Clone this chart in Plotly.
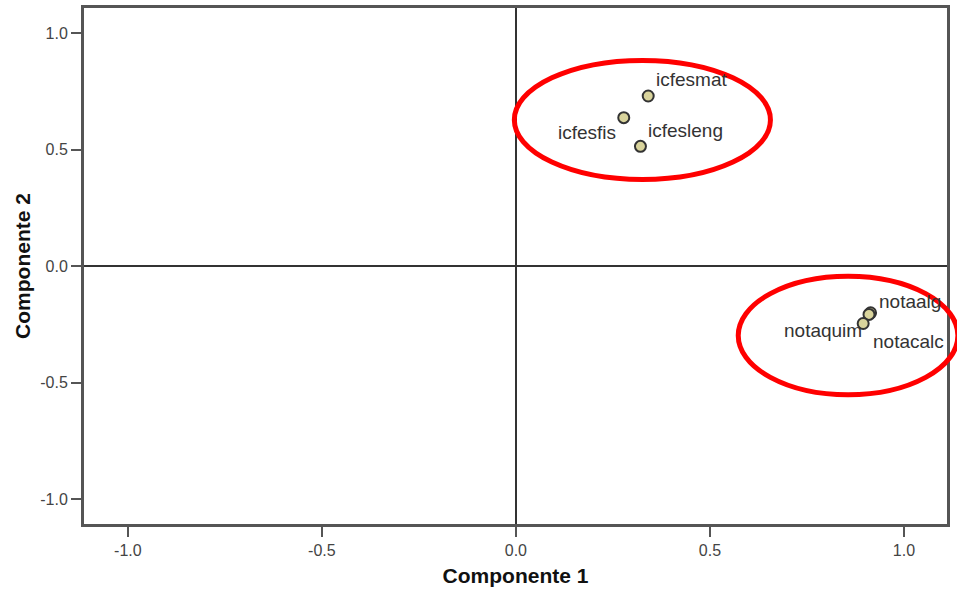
import plotly.graph_objects as go

# Data
variables = ["icfesmat", "icfesfis", "icfesleng", "notaalg", "notacalc", "notaquim"]
comp1 = [0.341, 0.278, 0.321, 0.914, 0.910, 0.895]
comp2 = [0.731, 0.638, 0.515, -0.200, -0.207, -0.246]
tick_vals = [-1.0, -0.5, 0.0, 0.5, 1.0]
tick_text = ["-1.0", "-0.5", "0.0", "0.5", "1.0"]

# label placement (anchor, xshift, yshift) per variable
label_pos = {
    "icfesmat": ("left", 6, 17),
    "icfesfis": ("right", -6, -15),
    "icfesleng": ("left", 6, 16),
    "notaalg": ("left", 6, 11),
    "notacalc": ("left", 2, -27),
    "notaquim": ("right", 1, -7),
}

xr = [-1.113, 1.111]
yr = [-1.107, 1.109]

# ellipses (data coords): x0, x1, y0, y1
ellipses = [(-0.004, 0.656, 0.373, 0.884), (0.573, 1.139, -0.552, -0.043)]

def px(v):
    return (v - xr[0]) / (xr[1] - xr[0])

def py(v):
    return (v - yr[0]) / (yr[1] - yr[0])

fig = go.Figure()
fig.add_trace(go.Scatter(
    x=comp1, y=comp2, mode="markers",
    marker=dict(size=11, color="#d9d49c", line=dict(color="#333333", width=2)),
    hoverinfo="text", text=variables, showlegend=False,
))

for name, xv, yv in zip(variables, comp1, comp2):
    anchor, xs, ys = label_pos[name]
    fig.add_annotation(x=xv, y=yv, text=name, showarrow=False,
                       xanchor=anchor, yanchor="middle", xshift=xs, yshift=ys,
                       font=dict(family="Liberation Sans, Arial", size=19, color="#333333"))

for x0, x1, y0, y1 in ellipses:
    fig.add_shape(type="circle", xref="paper", yref="paper",
                  x0=px(x0), x1=px(x1), y0=py(y0), y1=py(y1),
                  line=dict(color="#ff0000", width=5), layer="above")

axis_common = dict(
    tickvals=tick_vals, ticktext=tick_text,
    ticks="outside", ticklen=10, tickwidth=2, tickcolor="#555555",
    tickfont=dict(family="Liberation Sans, Arial", size=16, color="#444444"),
    showline=True, linecolor="#555555", linewidth=3, mirror=True,
    showgrid=False, zeroline=True, zerolinecolor="#333333", zerolinewidth=2,
)

fig.update_layout(
    width=957, height=590,
    margin=dict(l=84, r=10, t=8, b=66, autoexpand=False),
    paper_bgcolor="white", plot_bgcolor="white",
    xaxis=dict(range=xr, title=dict(text="<b>Componente 1</b>", standoff=11,
               font=dict(family="Liberation Sans, Arial", size=21, color="#111111")),
               **axis_common),
    yaxis=dict(range=yr, title=dict(text="<b>Componente 2</b>", standoff=4,
               font=dict(family="Liberation Sans, Arial", size=21, color="#111111")),
               **axis_common),
)

fig.write_html("out.html", config={"displayModeBar": False},
               post_script="document.body.style.margin='0px';document.body.style.padding='0px';")
